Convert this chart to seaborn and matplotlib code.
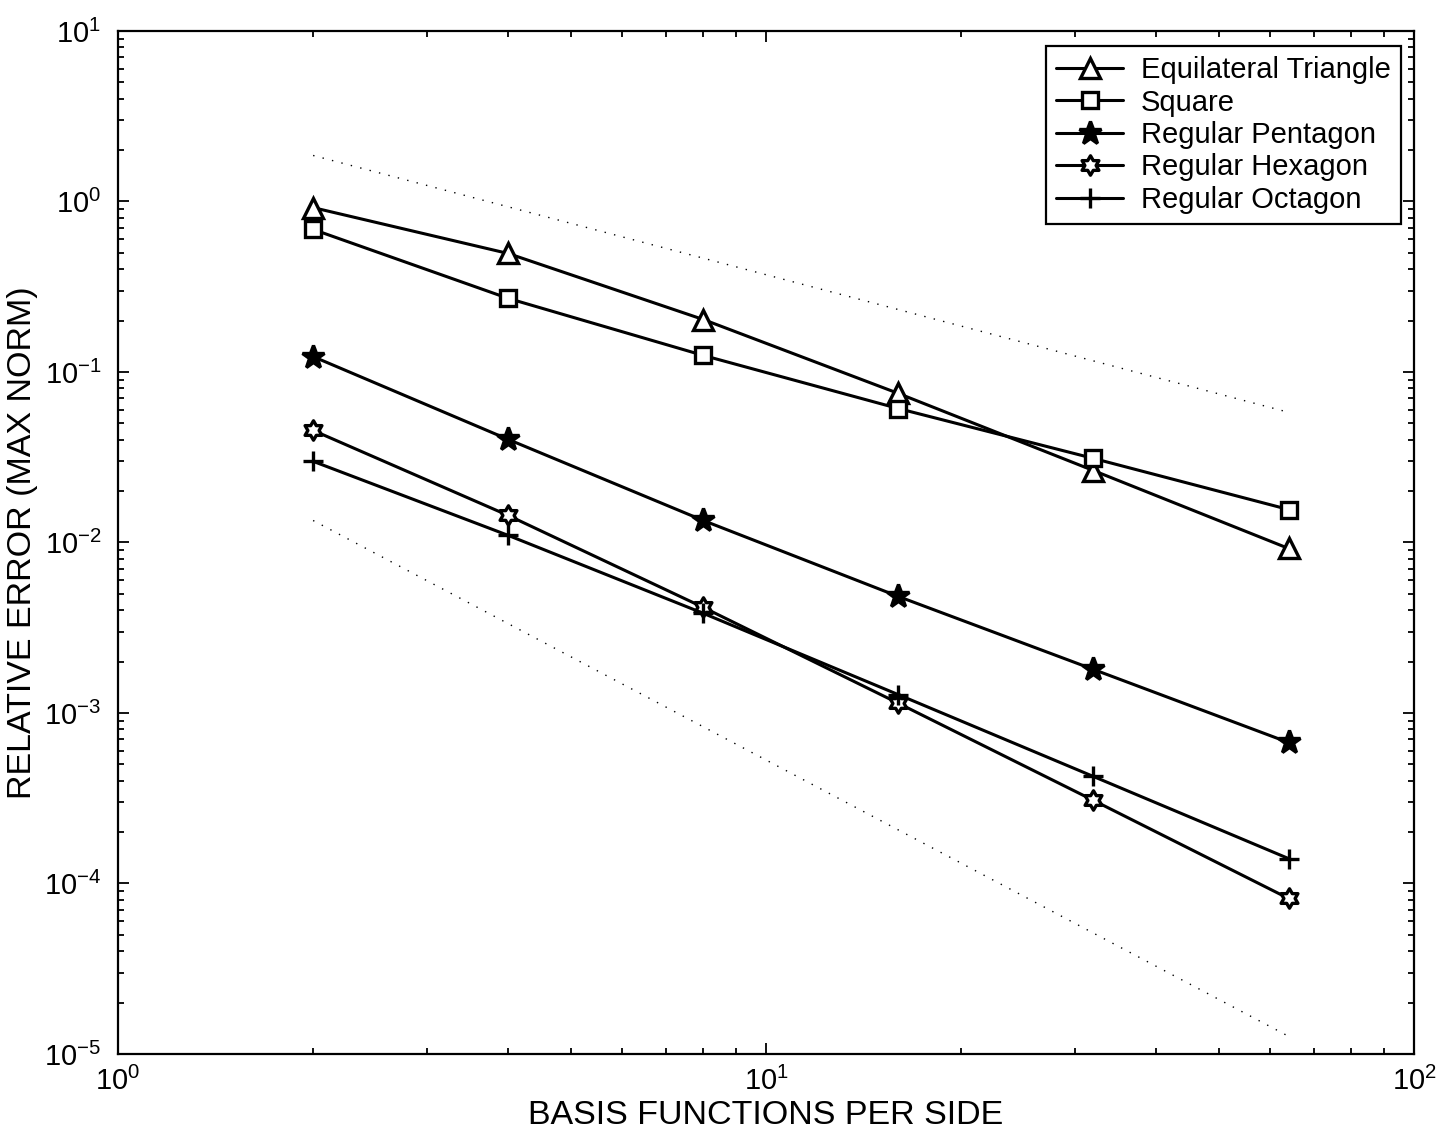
import numpy as np
import pandas as pd
import seaborn as sns
import matplotlib
import matplotlib.pyplot as plt
from matplotlib.path import Path

# basis functions per side
n_basis = [2, 4, 8, 16, 32, 64]

# relative error (max norm)
err_triangle = [0.92, 0.495, 0.203, 0.0748, 0.0264, 0.00922]
err_square = [0.685, 0.27, 0.125, 0.061, 0.0311, 0.0156]
err_pentagon = [0.123, 0.0402, 0.01345, 0.00482, 0.0018, 0.000671]
err_hexagon = [0.0454, 0.0144, 0.00416, 0.00114, 0.000307, 8.17e-5]
err_octagon = [0.0299, 0.011, 0.00384, 0.00128, 0.000424, 0.00014]

# dotted reference slopes (end points)
guide_x = [2, 64]
guide_upper = [1.86, 0.058]
guide_lower = [0.01345, 1.27e-5]

labels = ["Equilateral Triangle", "Square", "Regular Pentagon",
          "Regular Hexagon", "Regular Octagon"]

# six pointed star for the hexagon marker
ang = np.pi / 2 + np.arange(12) * np.pi / 6
rad = np.where(np.arange(12) % 2 == 0, 1.0, 1 / np.sqrt(3))
verts = np.column_stack([rad * np.cos(ang), rad * np.sin(ang)])
verts = np.vstack([verts, verts[:1]])
hexagram = Path(verts, [Path.MOVETO] + [Path.LINETO] * 11 + [Path.CLOSEPOLY])

styles = {
    "Equilateral Triangle": dict(marker="^", ms=14, mfc="white"),
    "Square": dict(marker="s", ms=11, mfc="white"),
    "Regular Pentagon": dict(marker="*", ms=17, mfc="black"),
    "Regular Hexagon": dict(marker=hexagram, ms=14, mfc="white"),
    "Regular Octagon": dict(marker="+", ms=15, mfc="white"),
}

sns.set_style("ticks")
plt.rcParams["font.family"] = ["Liberation Sans", "DejaVu Sans"]
plt.rcParams["mathtext.fontset"] = "custom"
plt.rcParams["mathtext.rm"] = "Liberation Sans"
plt.rcParams["mathtext.it"] = "Liberation Sans:italic"
for k in ["text.color", "axes.labelcolor", "xtick.color", "ytick.color", "axes.edgecolor"]:
    plt.rcParams[k] = "black"

fig = plt.figure(figsize=(14.43, 11.45), dpi=100)
ax = fig.add_axes([0.0818, 0.0795, 0.8982, 0.8935])

# dotted slope guides
for xs, ys in [(guide_x, guide_upper), (guide_x, guide_lower)]:
    sns.lineplot(x=xs, y=ys, ax=ax, color="black", lw=1.0,
                 linestyle=(0, (1, 6)), legend=False)

for name, vals in zip(labels, [err_triangle, err_square, err_pentagon,
                               err_hexagon, err_octagon]):
    st = styles[name]
    sns.lineplot(x=n_basis, y=vals, ax=ax, color="black", lw=2.2,
                 marker=st["marker"], markersize=st["ms"],
                 markerfacecolor=st["mfc"], markeredgecolor="black",
                 markeredgewidth=2.4, label=name)

ax.set_xscale("log")
ax.set_yscale("log")
ax.set_xlim(1, 100)
ax.set_ylim(1e-5, 10)

ax.tick_params(which="both", direction="in", top=True, right=True,
               labelsize=21, width=1.3)
ax.tick_params(which="major", length=8)
ax.tick_params(which="minor", length=4)
ax.tick_params(axis="x", which="major", pad=9)
ax.tick_params(axis="y", which="major", pad=12)
ax.yaxis.set_major_locator(matplotlib.ticker.LogLocator(base=10, numticks=10))
ax.yaxis.set_minor_locator(matplotlib.ticker.LogLocator(base=10, subs=np.arange(2, 10), numticks=20))
for sp in ax.spines.values():
    sp.set_linewidth(1.6)

ax.set_xlabel("BASIS FUNCTIONS PER SIDE", fontsize=24.5, labelpad=3)
ax.set_ylabel("RELATIVE ERROR (MAX NORM)", fontsize=24.5, labelpad=4)

leg = ax.legend(loc="upper right", bbox_to_anchor=(1401 / 1443, 1 - 46 / 1145),
                bbox_transform=fig.transFigure, borderaxespad=0,
                fontsize=21, fancybox=False, framealpha=1, edgecolor="black",
                handlelength=2.3, handletextpad=0.6, labelspacing=0.15,
                borderpad=0.35)
leg.get_frame().set_linewidth(1.6)

fig.savefig("out.png", dpi=100)
